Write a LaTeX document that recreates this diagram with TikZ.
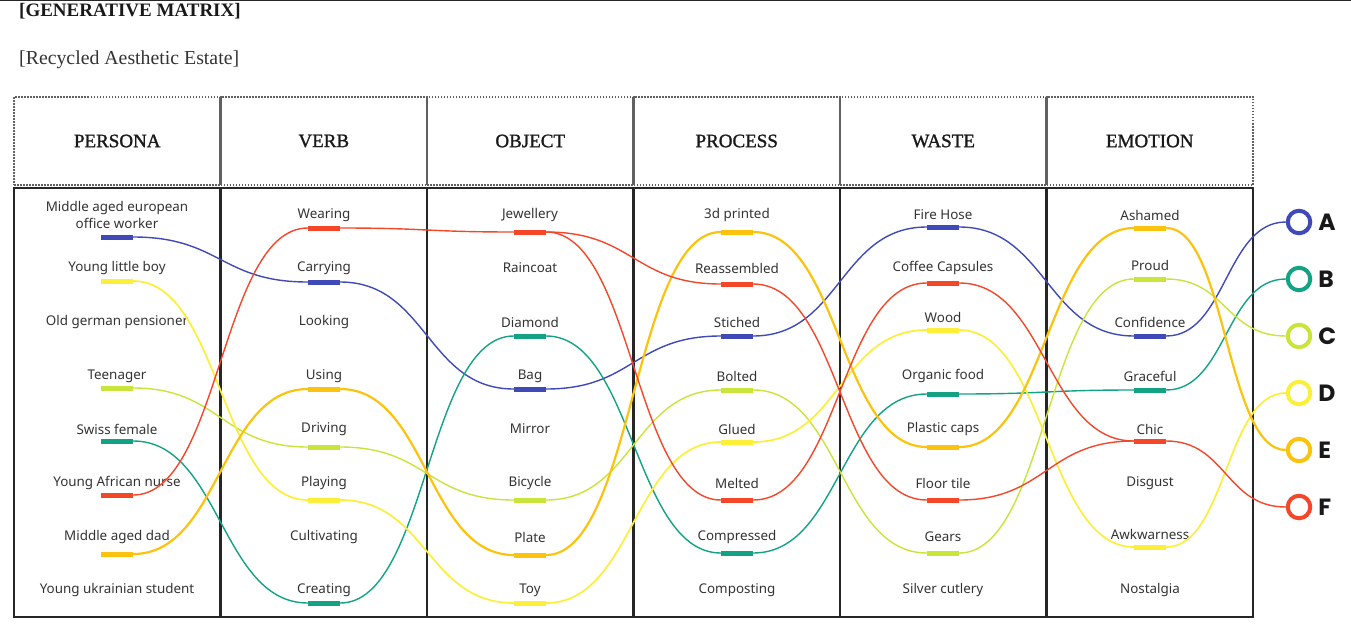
\documentclass[tikz,border=0pt]{standalone}
\usepackage{fontspec}
\setmainfont{Liberation Serif}
\newfontfamily\itemfont{Noto Sans}
\newfontfamily\letterfont{Poppins}
\newfontface\headfont{Liberation Serif}[FakeBold=1.3]
\usepackage{tikz}
\usetikzlibrary{positioning}
\definecolor{mblue}{HTML}{3F4AB8}
\definecolor{mteal}{HTML}{13A384}
\definecolor{mlime}{HTML}{C9E43B}
\definecolor{myellow}{HTML}{FCEF3A}
\definecolor{mamber}{HTML}{FCC30E}
\definecolor{mred}{HTML}{F4472A}
\definecolor{ink}{HTML}{333333}

\begin{document}
\begin{tikzpicture}[x=1pt,y=-1pt,
    head/.style={draw=black!62,line width=2.8pt,dash pattern=on 1.5pt off 1.5pt,minimum width=206.5pt,minimum height=88pt,inner sep=0pt,
      font=\headfont\fontsize{19}{22}\selectfont,text=black!90},
    col/.style={draw=black!85,line width=2.2pt,minimum width=206.5pt,minimum height=429pt,inner sep=0pt},
    item/.style={font=\itemfont\fontsize{13.4}{17}\selectfont,text=ink,align=center,inner sep=1pt},
    tag/.style={fill=#1,minimum width=32pt,minimum height=5pt,inner sep=0pt},
    link/.style={draw=#1,line width=1.4pt},
    swoop/.style={to path={.. controls +(#1,0) and +(-#1,0) .. (\tikztotarget)}},
    swoop/.default=87,
    ring/.style={circle,draw=#1,line width=4pt,minimum size=22.5pt,inner sep=0pt},
    letter/.style={font=\letterfont\bfseries\fontsize{23.5}{25}\selectfont,text=black!90,inner sep=0pt}]
  \useasboundingbox (0,0) rectangle (1351,634);
  \draw[black!85,line width=1pt] (0,1) -- (1351,1);

  % titles
  \node[anchor=base west,inner sep=0pt,font=\bfseries\fontsize{19}{22}\selectfont,text=black!90] (title) at (19,17) {[GENERATIVE MATRIX]};
  \node[anchor=base west,inner sep=0pt,font=\fontsize{19.8}{22}\selectfont,text=ink] (subtitle) at (19,65) {[Recycled Aesthetic Estate]};

  % column heads and bodies
  \node[head] (hper) at (117.25,141) {PERSONA};
  \node[head] (hver) at (323.75,141) {VERB};
  \node[head] (hobj) at (530.25,141) {OBJECT};
  \node[head] (hpro) at (736.75,141) {PROCESS};
  \node[head] (hwas) at (943.25,141) {WASTE};
  \node[head] (hemo) at (1149.75,141) {EMOTION};
  \node[col] (cper) at (117.25,402.5) {};
  \node[col] (cver) at (323.75,402.5) {};
  \node[col] (cobj) at (530.25,402.5) {};
  \node[col] (cpro) at (736.75,402.5) {};
  \node[col] (cwas) at (943.25,402.5) {};
  \node[col] (cemo) at (1149.75,402.5) {};

  % persona
  \node[item] (per1t) at (117,215) {Middle aged european\\office worker};
  \node[tag=mblue] (per1) at (117,237) {};
  \node[item] (per2t) at (117,268) {Young little boy};
  \node[tag=myellow] (per2) at (117,281) {};
  \node[item] (per3t) at (117,322) {Old german pensioner};
  \node[item] (per4t) at (117,376) {Teenager};
  \node[tag=mlime] (per4) at (117,388) {};
  \node[item] (per5t) at (117,429) {Swiss female};
  \node[tag=mteal] (per5) at (117,441) {};
  \node[item] (per6t) at (117,483) {Young African nurse};
  \node[tag=mred] (per6) at (117,495) {};
  \node[item] (per7t) at (117,537) {Middle aged dad};
  \node[tag=mamber] (per7) at (117,554) {};
  \node[item] (per8t) at (117,590) {Young ukrainian student};

  % verb
  \node[item] (ver1t) at (324,215) {Wearing};
  \node[tag=mred] (ver1) at (324,228) {};
  \node[item] (ver2t) at (324,268) {Carrying};
  \node[tag=mblue] (ver2) at (324,282) {};
  \node[item] (ver3t) at (324,322) {Looking};
  \node[item] (ver4t) at (324,376) {Using};
  \node[tag=mamber] (ver4) at (324,389) {};
  \node[item] (ver5t) at (324,429) {Driving};
  \node[tag=mlime] (ver5) at (324,447) {};
  \node[item] (ver6t) at (324,483) {Playing};
  \node[tag=myellow] (ver6) at (324,500) {};
  \node[item] (ver7t) at (324,537) {Cultivating};
  \node[item] (ver8t) at (324,590) {Creating};
  \node[tag=mteal] (ver8) at (324,603) {};

  % object
  \node[item] (obj1t) at (530,215) {Jewellery};
  \node[tag=mred] (obj1) at (530,232) {};
  \node[item] (obj2t) at (530,268) {Raincoat};
  \node[item] (obj3t) at (530,322) {Diamond};
  \node[tag=mteal] (obj3) at (530,336) {};
  \node[item] (obj4t) at (530,376) {Bag};
  \node[tag=mblue] (obj4) at (530,389) {};
  \node[item] (obj5t) at (530,429) {Mirror};
  \node[item] (obj6t) at (530,483) {Bicycle};
  \node[tag=mlime] (obj6) at (530,500) {};
  \node[item] (obj7t) at (530,537) {Plate};
  \node[tag=mamber] (obj7) at (530,555) {};
  \node[item] (obj8t) at (530,590) {Toy};
  \node[tag=myellow] (obj8) at (530,603) {};

  % process
  \node[item] (pro1t) at (737,215) {3d printed};
  \node[tag=mamber] (pro1) at (737,232) {};
  \node[item] (pro2t) at (737,268) {Reassembled};
  \node[tag=mred] (pro2) at (737,284) {};
  \node[item] (pro3t) at (737,322) {Stiched};
  \node[tag=mblue] (pro3) at (737,336) {};
  \node[item] (pro4t) at (737,376) {Bolted};
  \node[tag=mlime] (pro4) at (737,390) {};
  \node[item] (pro5t) at (737,429) {Glued};
  \node[tag=myellow] (pro5) at (737,442) {};
  \node[item] (pro6t) at (737,483) {Melted};
  \node[tag=mred] (pro6) at (737,500) {};
  \node[item] (pro7t) at (737,537) {Compressed};
  \node[tag=mteal] (pro7) at (737,553) {};
  \node[item] (pro8t) at (737,590) {Composting};

  % waste
  \node[item] (was1t) at (943,215) {Fire Hose};
  \node[tag=mblue] (was1) at (943,227) {};
  \node[item] (was2t) at (943,268) {Coffee Capsules};
  \node[tag=mred] (was2) at (943,283) {};
  \node[item] (was3t) at (943,317) {Wood};
  \node[tag=myellow] (was3) at (943,330) {};
  \node[item] (was4t) at (943,376) {Organic food};
  \node[tag=mteal] (was4) at (943,394) {};
  \node[item] (was5t) at (943,429) {Plastic caps};
  \node[tag=mamber] (was5) at (943,447) {};
  \node[item] (was6t) at (943,483) {Floor tile};
  \node[tag=mred] (was6) at (943,500) {};
  \node[item] (was7t) at (943,537) {Gears};
  \node[tag=mlime] (was7) at (943,553) {};
  \node[item] (was8t) at (943,590) {Silver cutlery};

  % emotion
  \node[item] (emo1t) at (1150,215) {Ashamed};
  \node[tag=mamber] (emo1) at (1150,228) {};
  \node[item] (emo2t) at (1150,265) {Proud};
  \node[tag=mlime] (emo2) at (1150,279) {};
  \node[item] (emo3t) at (1150,322) {Confidence};
  \node[tag=mblue] (emo3) at (1150,336) {};
  \node[item] (emo4t) at (1150,376) {Graceful};
  \node[tag=mteal] (emo4) at (1150,390) {};
  \node[item] (emo5t) at (1150,429) {Chic};
  \node[tag=mred] (emo5) at (1150,441) {};
  \node[item] (emo6t) at (1150,483) {Disgust};
  \node[item] (emo7t) at (1150,534) {Awkwarness};
  \node[tag=myellow] (emo7) at (1150,547) {};
  \node[item] (emo8t) at (1150,590) {Nostalgia};

  % outcomes
  \node[ring=mblue] (outA) at (1299,222) {};
  \node[ring=mteal] (outB) at (1299,279) {};
  \node[ring=mlime] (outC) at (1299,336) {};
  \node[ring=myellow] (outD) at (1299,393) {};
  \node[ring=mamber] (outE) at (1299,450) {};
  \node[ring=mred] (outF) at (1299,507) {};
  \node[letter,right=6pt of outA] (ltrA) {A};
  \node[letter,right=6pt of outB] (ltrB) {B};
  \node[letter,right=6pt of outC] (ltrC) {C};
  \node[letter,right=6pt of outD] (ltrD) {D};
  \node[letter,right=6pt of outE] (ltrE) {E};
  \node[letter,right=6pt of outF] (ltrF) {F};

  % strands
  \draw[link=mblue] (per1.east) to[swoop] (ver2.west) (ver2.east) to[swoop] (obj4.west) (obj4.east) to[swoop] (pro3.west)
    (pro3.east) to[swoop] (was1.west) (was1.east) to[swoop] (emo3.west) (emo3.east) to[swoop=60] (outA.west);
  \draw[link=mteal] (per5.east) to[swoop] (ver8.west) (ver8.east) to[swoop] (obj3.west) (obj3.east) to[swoop] (pro7.west)
    (pro7.east) to[swoop] (was4.west) (was4.east) to[swoop] (emo4.west) (emo4.east) to[swoop=60] (outB.west);
  \draw[link=mlime] (per4.east) to[swoop] (ver5.west) (ver5.east) to[swoop] (obj6.west) (obj6.east) to[swoop] (pro4.west)
    (pro4.east) to[swoop] (was7.west) (was7.east) to[swoop] (emo2.west) (emo2.east) to[swoop=60] (outC.west);
  \draw[link=myellow,line width=1.7pt] (per2.east) to[swoop] (ver6.west) (ver6.east) to[swoop] (obj8.west) (obj8.east) to[swoop] (pro5.west)
    (pro5.east) to[swoop] (was3.west) (was3.east) to[swoop] (emo7.west) (emo7.east) to[swoop=60] (outD.west);
  \draw[link=mamber,line width=2.2pt] (per7.east) to[swoop] (ver4.west) (ver4.east) to[swoop] (obj7.west) (obj7.east) to[swoop] (pro1.west)
    (pro1.east) to[swoop] (was5.west) (was5.east) to[swoop] (emo1.west) (emo1.east) to[swoop=60] (outE.west);
  \draw[link=mred] (per6.east) to[swoop] (ver1.west) (ver1.east) to[swoop] (obj1.west) (obj1.east) to[swoop] (pro2.west)
    (pro2.east) to[swoop] (was6.west) (was6.east) to[swoop] (emo5.west) (emo5.east) to[swoop=60] (outF.west);
  \draw[link=mred] (obj1.east) to[swoop] (pro6.west) (pro6.east) to[swoop] (was2.west) (was2.east) to[swoop] (emo5.west);
\end{tikzpicture}
\end{document}
